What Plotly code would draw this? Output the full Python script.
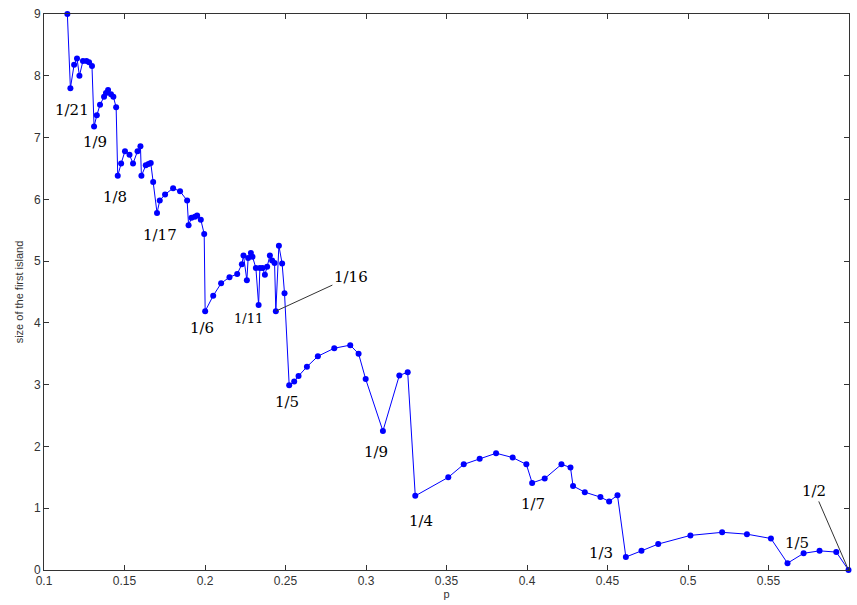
import plotly.graph_objects as go

# p values and size of the first island
p = [0.1145, 0.1164, 0.1187, 0.1205, 0.1220, 0.1242, 0.1264, 0.1280, 0.1298,
     0.1311, 0.1328, 0.1348, 0.1373, 0.1385, 0.1398, 0.1416, 0.1431, 0.1448,
     0.1458, 0.1479, 0.1503, 0.1531, 0.1553, 0.1581, 0.1599, 0.1605, 0.1632,
     0.1649, 0.1663, 0.1678, 0.1702, 0.1719, 0.1752, 0.1802, 0.1845, 0.1889,
     0.1898, 0.1916, 0.1937, 0.1951, 0.1974, 0.1995, 0.2001, 0.2051, 0.2100,
     0.2152, 0.2200, 0.2229, 0.2239, 0.2260, 0.2268, 0.2285, 0.2295, 0.2316,
     0.2333, 0.2341, 0.2358, 0.2372, 0.2386, 0.2403, 0.2417, 0.2432, 0.2440,
     0.2459, 0.2479, 0.2494, 0.2523, 0.2554, 0.2581, 0.2633, 0.2701, 0.2803,
     0.2902, 0.2954, 0.2998, 0.3105, 0.3207, 0.3259, 0.3306, 0.3511, 0.3607,
     0.3706, 0.3808, 0.3911, 0.3996, 0.4032, 0.4110, 0.4214, 0.4270, 0.4286,
     0.4359, 0.4456, 0.4510, 0.4562, 0.4614, 0.4711, 0.4815, 0.5015, 0.5212,
     0.5366, 0.5515, 0.5618, 0.5718, 0.5817, 0.5921, 0.5997]
size = [9.00, 7.80, 8.18, 8.28, 8.00, 8.24, 8.24, 8.22, 8.16,
        7.18, 7.36, 7.53, 7.66, 7.72, 7.77, 7.70, 7.66, 7.49,
        6.38, 6.58, 6.78, 6.72, 6.58, 6.78, 6.86, 6.38, 6.55,
        6.57, 6.59, 6.28, 5.78, 5.98, 6.08, 6.18, 6.13, 5.98,
        5.58, 5.70, 5.72, 5.74, 5.67, 5.44, 4.19, 4.44, 4.64,
        4.74, 4.79, 4.95, 5.09, 4.69, 5.05, 5.13, 5.07, 4.89,
        4.29, 4.89, 4.89, 4.78, 4.91, 5.09, 5.01, 4.97, 4.19,
        5.25, 4.96, 4.48, 2.99, 3.05, 3.14, 3.29, 3.46, 3.59,
        3.64, 3.50, 3.09, 2.25, 3.15, 3.20, 1.20, 1.50, 1.71,
        1.80, 1.89, 1.82, 1.71, 1.41, 1.48, 1.71, 1.66, 1.36,
        1.26, 1.18, 1.11, 1.21, 0.21, 0.31, 0.42, 0.56, 0.61,
        0.58, 0.51, 0.11, 0.27, 0.31, 0.29, 0.00]

# fraction labels placed near the drops
label_text = ["1/21", "1/9", "1/8", "1/17", "1/6", "1/11", "1/5", "1/9",
              "1/4", "1/7", "1/3", "1/5"]
label_x = [0.1172, 0.1315, 0.1440, 0.1719, 0.1980, 0.2272, 0.2508, 0.3062,
           0.3341, 0.4038, 0.4460, 0.5678]
label_y = [7.45, 6.93, 6.03, 5.43, 3.92, 4.07, 2.72, 1.91,
           0.79, 1.07, 0.28, 0.44]
label_size = [15, 15, 15, 15, 15, 13, 15, 15, 15, 15, 15, 15]

# labels connected to their point by a leader line
pointer_text = ["1/16", "1/2"]
pointer_idx = [62, 105]
pointer_tx = [0.2906, 0.5784]
pointer_ty = [4.75, 1.28]

x_ticks = [0.1, 0.15, 0.2, 0.25, 0.3, 0.35, 0.4, 0.45, 0.5, 0.55, 0.6]
x_tick_text = ["0.1", "0.15", "0.2", "0.25", "0.3", "0.35", "0.4", "0.45",
               "0.5", "0.55", "0.6"]
y_ticks = list(range(0, 10))

fig = go.Figure()
fig.add_trace(go.Scatter(
    x=p, y=size, mode="lines+markers",
    line=dict(color="#0000ff", width=1),
    marker=dict(color="#0000ff", size=6, symbol="circle"),
    cliponaxis=False, showlegend=False,
))

label_font = "DejaVu Serif"
for t, x, y, s in zip(label_text, label_x, label_y, label_size):
    fig.add_annotation(x=x, y=y, text=t, showarrow=False,
                       font=dict(family=label_font, size=s, color="black"))

for t, i, tx, ty in zip(pointer_text, pointer_idx, pointer_tx, pointer_ty):
    fig.add_annotation(x=p[i], y=size[i], ax=tx, ay=ty, axref="x", ayref="y",
                       text=t, showarrow=True, arrowhead=0, arrowwidth=1,
                       arrowcolor="#333333", standoff=0, startstandoff=0,
                       font=dict(family=label_font, size=15, color="black"))

axis_common = dict(
    showgrid=False, zeroline=False, showline=True, linecolor="#333333",
    linewidth=1, mirror="ticks", ticks="inside", ticklen=5, tickwidth=1,
    tickcolor="#333333", automargin=False,
    tickfont=dict(family="Liberation Sans", size=12, color="#333333"),
)

fig.update_layout(
    width=857, height=605,
    margin=dict(l=44, r=8, t=14, b=35),
    paper_bgcolor="white", plot_bgcolor="white",
    xaxis=dict(range=[0.1, 0.6], tickvals=x_ticks, ticktext=x_tick_text,
               title=dict(text="p", standoff=2,
                          font=dict(family="Liberation Sans", size=11,
                                    color="#333333")),
               **axis_common),
    yaxis=dict(range=[0, 9], tickvals=y_ticks,
               title=dict(text="size of the first island", standoff=8,
                          font=dict(family="Liberation Sans", size=11,
                                    color="#333333")),
               **axis_common),
)

fig.write_html("out.html")
